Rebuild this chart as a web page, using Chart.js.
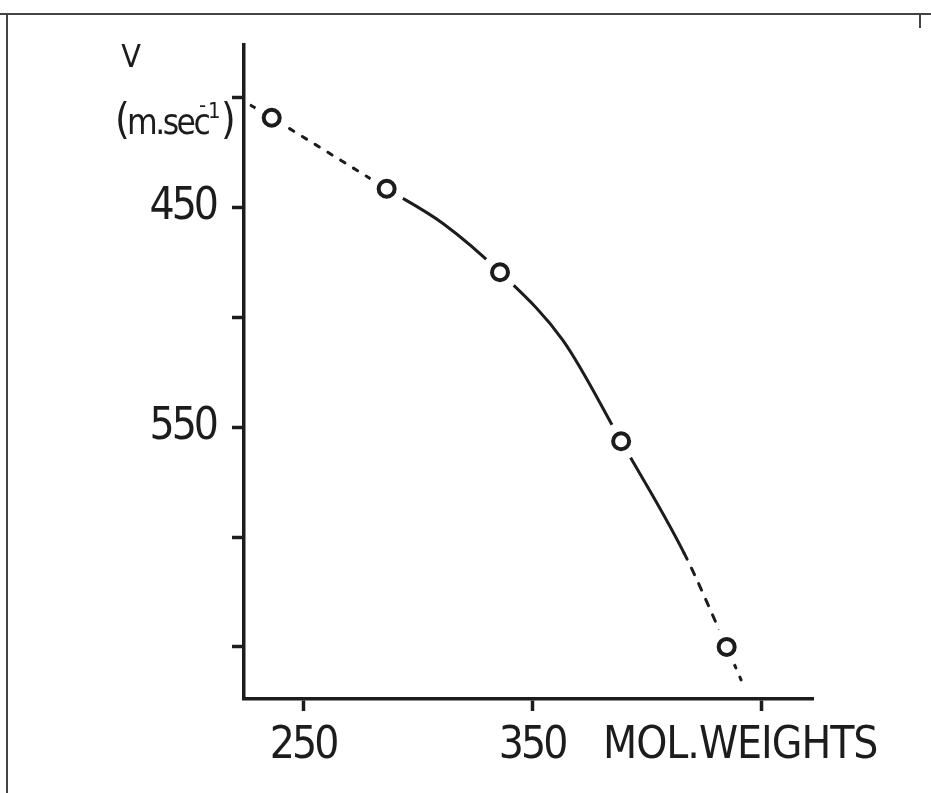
<!DOCTYPE html>
<html>
<head>
<meta charset="utf-8">
<script src="https://cdn.jsdelivr.net/npm/chart.js@4.4.0/dist/chart.umd.min.js"></script>
<style>
  html, body { margin: 0; padding: 0; background: #fff; }
  #wrap { position: relative; width: 931px; height: 793px; }
</style>
</head>
<body>
<div id="wrap"><canvas id="c"></canvas></div>
<script>
// measured points (open circles)
const molWeights = [236.3, 286.5, 336, 388.9, 435];
const velocities = [409.2, 441.5, 479.5, 556.4, 650];

// hand-drawn trend curve
const curveMol = [227.3, 236.3, 286.5, 311.1, 336, 363.5, 388.9, 416.4, 435, 441.3];
const curveVel = [403.6, 409.2, 441.5, 457.3, 479.5, 510.5, 556.4, 607.3, 650, 665];
const solidFrom = 286.5, solidTo = 416.4;   // curve is solid between these weights

// axes
const yTicks = [400, 450, 500, 550, 600, 650];
const yLabelled = [450, 550];
const xTicks = [250, 350, 450];
const xLabelled = [250, 350];

const INK = '#1c1c1c';
const FONT = '"Liberation Sans Narrow", "DejaVu Sans Condensed", sans-serif';

const pts = molWeights.map((x, i) => ({ x, y: velocities[i] }));
const curve = curveMol.map((x, i) => ({ x, y: curveVel[i] }));

// ── narrow lettering + frame + free text (axis titles sit outside the scales)
const extras = {
  id: 'extras',
  beforeDraw(chart) {
    chart.ctx.letterSpacing = '-3px';
  },
  afterDraw(chart) {
    const c = chart.ctx;
    c.save();
    c.strokeStyle = '#444';
    c.lineWidth = 2;
    c.beginPath();
    c.moveTo(0, 14); c.lineTo(931, 14);
    c.moveTo(7, 14); c.lineTo(7, 793);
    c.moveTo(920, 14); c.lineTo(920, 28);
    c.stroke();

    c.fillStyle = INK;
    c.textBaseline = 'middle';
    c.textAlign = 'center';
    c.letterSpacing = '0px';
    c.font = '32px ' + FONT;
    c.fillText('V', 131, 59);

    // (m.sec-1) with superscript
    c.textAlign = 'left';
    c.textBaseline = 'alphabetic';
    c.font = '42px ' + FONT;
    c.fillText('(', 115, 134);
    c.letterSpacing = '-2.5px';
    c.font = '35px ' + FONT;
    c.fillText('m.sec', 127, 134);
    c.letterSpacing = '0px';
    c.font = '22px ' + FONT;
    c.fillText('-', 199, 112);
    c.fillText('1', 208, 118);
    c.font = '42px ' + FONT;
    c.fillText(')', 221, 134);

    c.textBaseline = 'middle';
    c.letterSpacing = '-1px';
    c.font = '44px ' + FONT;
    c.fillText('MOL.WEIGHTS', 603, 747);
    c.restore();
  }
};

new Chart(document.getElementById('c'), {
  type: 'scatter',
  data: {
    datasets: [
      { data: pts, showLine: false, pointRadius: 8, pointBorderWidth: 4,
        pointBorderColor: INK, pointBackgroundColor: '#fff', order: 0 },
      // white halo so the curve stops short of each circle
      { data: pts, showLine: false, pointRadius: 19, pointBorderWidth: 0,
        pointBorderColor: '#fff', pointBackgroundColor: '#fff', order: 1 },
      { data: curve, showLine: true, pointRadius: 0, borderColor: INK, borderWidth: 3,
        borderCapStyle: 'round', cubicInterpolationMode: 'monotone', fill: false, order: 2,
        segment: {
          borderDash: ctx => {
            const x0 = ctx.p0.parsed.x;
            if (x0 < solidFrom - 0.01) return [5, 10];
            if (x0 >= solidTo - 0.01) return [7, 10];
            return undefined;
          }
        } }
    ]
  },
  options: {
    responsive: true,
    maintainAspectRatio: false,
    animation: false,
    layout: { padding: { left: 0, top: 45, right: 118, bottom: 0 } },
    plugins: { legend: { display: false }, tooltip: { enabled: false } },
    scales: {
      x: {
        type: 'linear', min: 224.2, max: 472.7,
        afterBuildTicks: s => { s.ticks = xTicks.map(v => ({ value: v })); },
        afterFit: s => { s.height = 94; },
        grid: { drawOnChartArea: false, tickLength: 12, tickWidth: 3.5, tickColor: INK },
        border: { color: INK, width: 3.5 },
        ticks: {
          callback: v => xLabelled.includes(v) ? String(v) : '',
          font: { family: FONT, size: 44 }, color: INK, padding: 9,
          maxRotation: 0, autoSkip: false
        }
      },
      y: {
        type: 'linear', reverse: true, min: 376.1, max: 673.7,
        afterBuildTicks: s => { s.ticks = yTicks.map(v => ({ value: v })); },
        afterFit: s => { s.width = 244; },
        grid: { drawOnChartArea: false, tickLength: 12, tickWidth: 3.5, tickColor: INK },
        border: { color: INK, width: 3.5 },
        ticks: {
          callback: v => yLabelled.includes(v) ? String(v) : '',
          font: { family: FONT, size: 44 }, color: INK, padding: 16, autoSkip: false
        }
      }
    }
  },
  plugins: [extras]
});
</script>
</body>
</html>
